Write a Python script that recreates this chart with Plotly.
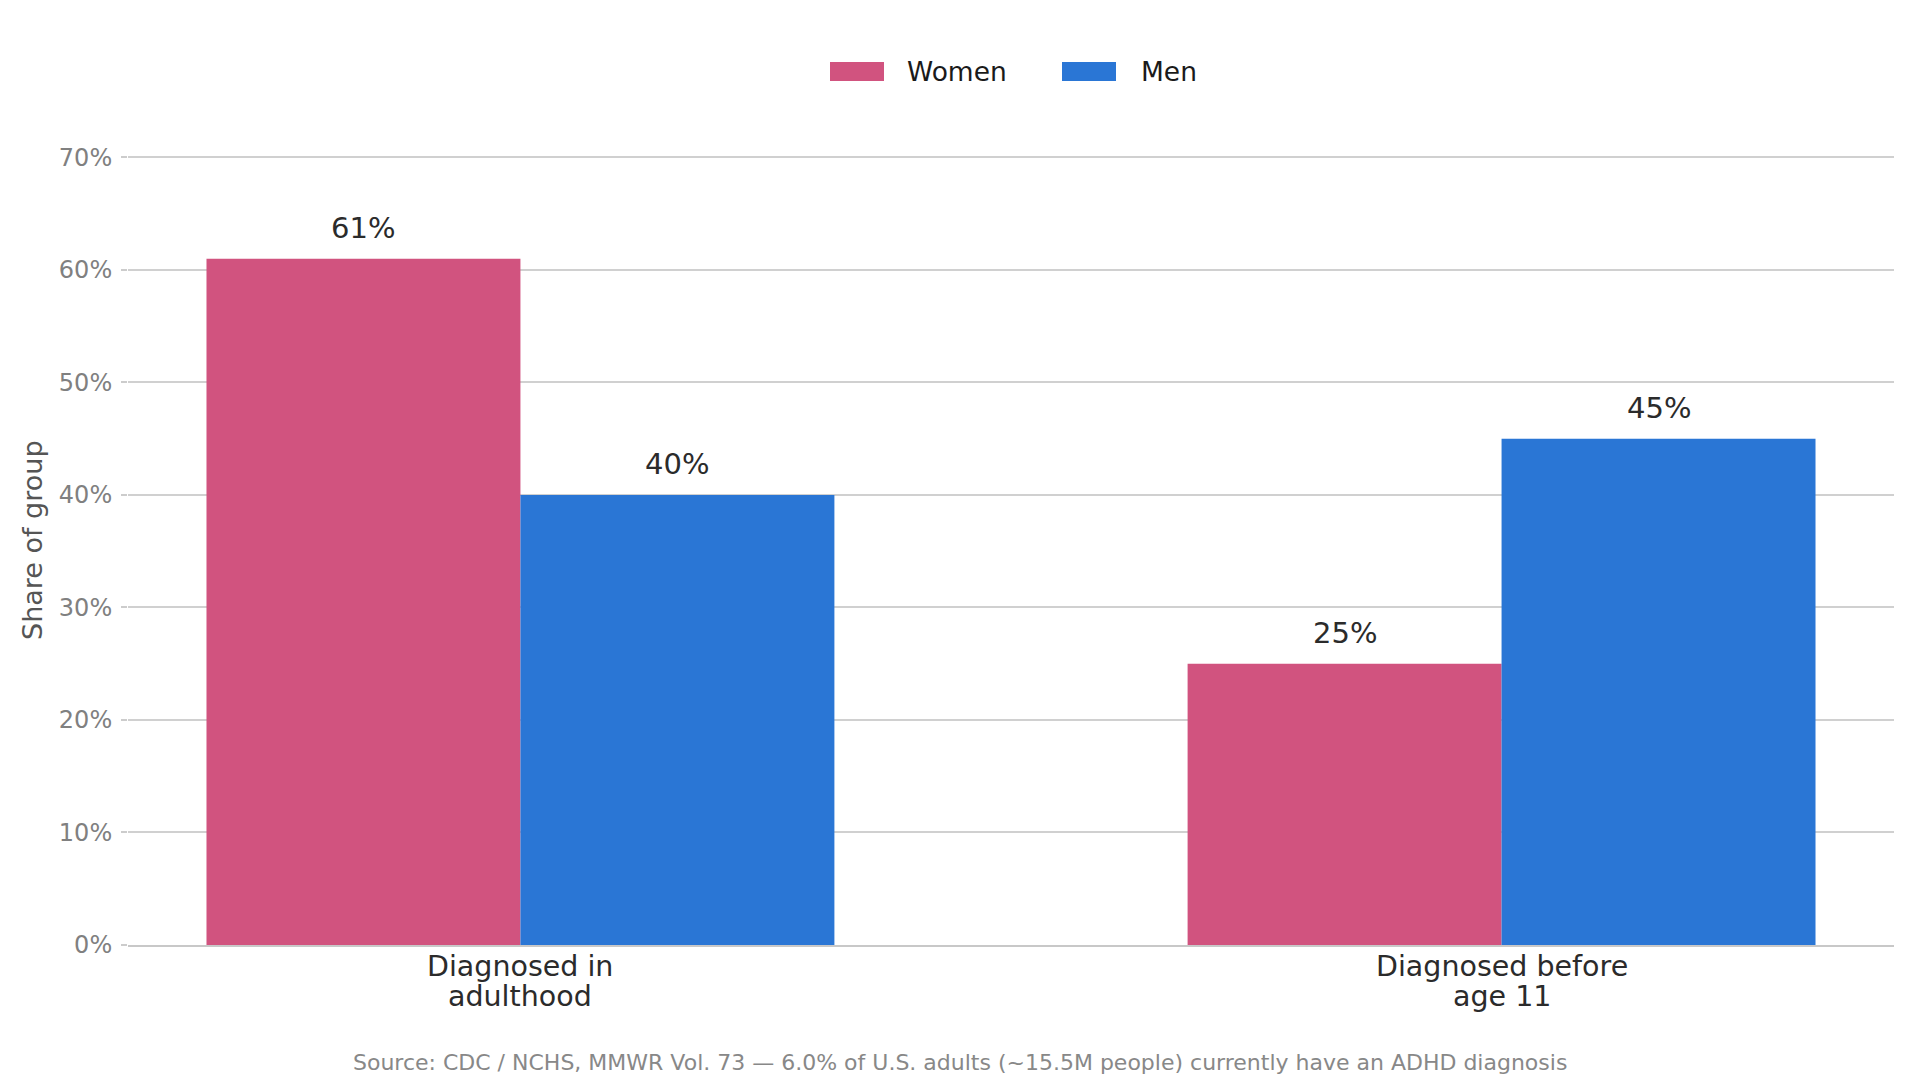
import plotly.graph_objects as go

categories = ["Diagnosed in<br>adulthood", "Diagnosed before<br>age 11"]
women = [61, 25]
men = [40, 45]
y_ticks = [0, 10, 20, 30, 40, 50, 60, 70]
y_tick_labels = [f"{v}%" for v in y_ticks]
source_text = "Source: CDC / NCHS, MMWR Vol. 73 — 6.0% of U.S. adults (~15.5M people) currently have an ADHD diagnosis"

WOMEN_COLOR = "#D1537F"
MEN_COLOR = "#2A76D5"
FONT = "DejaVu Sans"
BARGAP = 0.36
Y_MAX = 70.3

W, H = 1920, 1080
L, R, T, B = 128, 26, 154, 135
pw, ph = W - L - R, H - T - B

def px(x):
    return (x - L) / pw

def py(y):
    return (H - B - y) / ph

fig = go.Figure()
fig.add_trace(go.Bar(name="Women", x=categories, y=women, marker_color=WOMEN_COLOR,
                     marker_line_width=0))
fig.add_trace(go.Bar(name="Men", x=categories, y=men, marker_color=MEN_COLOR,
                     marker_line_width=0))

# value labels above bars
off = (1 - BARGAP) / 4
for i, cat in enumerate(categories):
    for vals, sign in ((women, -1), (men, 1)):
        fig.add_annotation(x=i + sign * off, y=vals[i], xref="x", yref="y",
                           text=f"{vals[i]}%", showarrow=False,
                           xanchor="center", yanchor="bottom", yshift=12,
                           font=dict(size=29, color="#2b2b2b", family=FONT))

# category labels (two tight lines)
for cat in categories:
    for j, line in enumerate(cat.split("<br>")):
        fig.add_annotation(x=cat, xref="x", yref="paper", y=py(966 + 31 * j),
                           text=line, showarrow=False, xanchor="center", yanchor="middle",
                           font=dict(size=28.5, color="#2b2b2b", family=FONT))

# custom legend (wide swatches)
legend_items = [("Women", WOMEN_COLOR, 830, 884, 905), ("Men", MEN_COLOR, 1062, 1116, 1139)]
for name, color, x0, x1, tx in legend_items:
    fig.add_shape(type="rect", xref="paper", yref="paper",
                  x0=px(x0), x1=px(x1), y0=py(81), y1=py(62),
                  fillcolor=color, line_width=0)
    fig.add_annotation(text=name, xref="paper", yref="paper", x=px(tx), y=py(71.5),
                       xanchor="left", yanchor="middle", showarrow=False,
                       font=dict(size=26.5, color="#1a1a1a", family=FONT))

# y-axis title
fig.add_annotation(text="Share of group", xref="paper", yref="paper", x=px(32), y=py(540),
                   xanchor="center", yanchor="middle", textangle=-90, showarrow=False,
                   font=dict(size=27, color="#555555", family=FONT))

fig.add_annotation(text=source_text, xref="paper", yref="paper", x=px(960), y=py(1062),
                   xanchor="center", yanchor="middle", showarrow=False,
                   font=dict(size=22, color="#888888", family=FONT))

fig.update_layout(
    width=W, height=H,
    margin=dict(l=L, r=R, t=T, b=B),
    barmode="group", bargap=BARGAP, bargroupgap=0,
    plot_bgcolor="white", paper_bgcolor="white",
    showlegend=False,
    font=dict(family=FONT),
)
fig.update_xaxes(
    range=[-0.4, 1.4], showgrid=False, showline=True, linecolor="#c8c8c8", linewidth=1.5,
    showticklabels=False, ticks="",
)
fig.update_yaxes(
    range=[0, Y_MAX], tickvals=y_ticks, ticktext=y_tick_labels,
    showgrid=True, gridcolor="#d0d0d0", gridwidth=1.5,
    ticks="outside", ticklen=6, tickcolor="#cccccc", tickwidth=1.5,
    ticklabelstandoff=4,
    tickfont=dict(size=24, color="#808080", family=FONT),
    zeroline=False, showline=False,
)

fig.write_html("out.html")
